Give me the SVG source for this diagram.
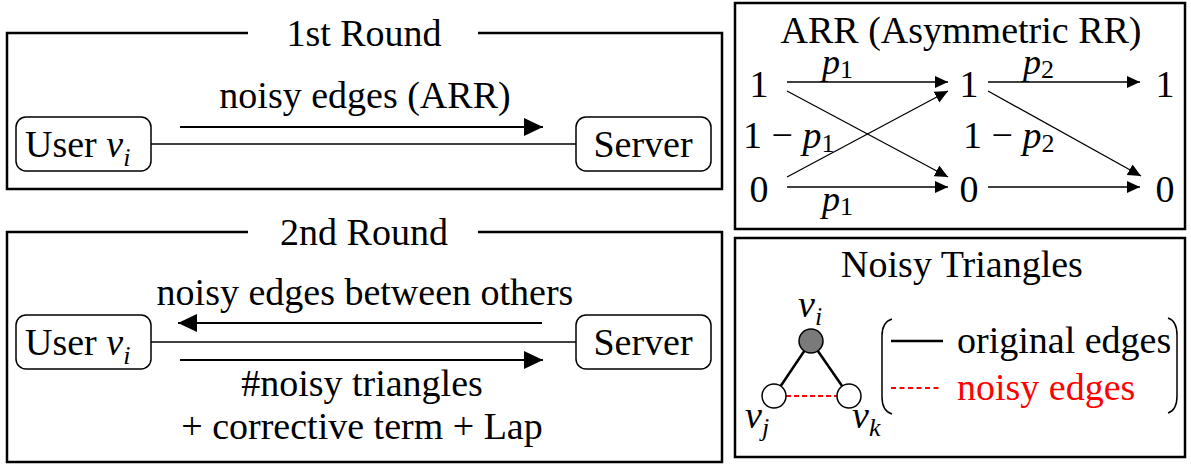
<svg xmlns="http://www.w3.org/2000/svg" width="1191" height="465" viewBox="0 0 1191 465" font-family="'Liberation Serif', 'DejaVu Serif', serif">
<style>
text{font-family:'Liberation Serif','DejaVu Serif',serif;font-size:38px;fill:#000}
.c{text-anchor:middle}
.it{font-style:italic}
.sub{font-size:26px}
.m{font-size:36px}
.frame{fill:none;stroke:#000;stroke-width:2.5}
.node{fill:#fff;stroke:#000;stroke-width:1.5}
.link{stroke:#000;stroke-width:1.4;fill:none}
.arr{stroke:#000;stroke-width:2;fill:none;marker-end:url(#big)}
.sarr{stroke:#000;stroke-width:1.3;fill:none;marker-end:url(#small)}
.red{fill:#ff0000}
</style>
<defs>
<marker id="big" markerUnits="userSpaceOnUse" markerWidth="20" markerHeight="19" refX="19" refY="9" orient="auto"><path d="M0,0 L19,9 L0,18 z" fill="#000"/></marker>
<marker id="small" markerUnits="userSpaceOnUse" markerWidth="14" markerHeight="13" refX="13" refY="6" orient="auto"><path d="M0,0 L13,6 L0,12 z" fill="#000"/></marker>
</defs>
<rect width="1191" height="465" fill="#fff"/>

<g id="round1">
<path class="frame" d="M248,33 H7 V189 H722 V33 H478"/>
<text class="c" x="364" y="46">1st Round</text>
<text class="c" x="365" y="108">noisy edges (ARR)</text>
</g>
<g id="user1">
<rect class="node" x="16" y="117" width="135" height="54" rx="10"/>
<text x="25" y="157">User <tspan class="it">v</tspan><tspan class="it sub" dy="9">i</tspan></text>
</g>
<g id="server1">
<rect class="node" x="576" y="117" width="135" height="54" rx="10"/>
<text class="c" x="643" y="157">Server</text>
</g>

<g id="round2">
<path class="frame" d="M248,232 H7 V462 H722 V232 H478"/>
<text class="c" x="364" y="245">2nd Round</text>
<text class="c" x="365" y="305">noisy edges between others</text>
<text class="c" x="362" y="396">#noisy triangles</text>
<text class="c" x="362" y="439">+ corrective term + Lap</text>
</g>
<g id="user2">
<rect class="node" x="16" y="315" width="135" height="54" rx="10"/>
<text x="25" y="355">User <tspan class="it">v</tspan><tspan class="it sub" dy="9">i</tspan></text>
</g>
<g id="server2">
<rect class="node" x="576" y="315" width="135" height="54" rx="10"/>
<text class="c" x="643" y="355">Server</text>
</g>

<g id="arr-panel">
<rect class="frame" x="735" y="3" width="450" height="226"/>
<text class="c" x="961" y="43">ARR (Asymmetric RR)</text>
<text class="c" x="759" y="97">1</text>
<text class="c" x="759" y="202">0</text>
<text class="c" x="969" y="97">1</text>
<text class="c" x="969" y="202">0</text>
<text class="c" x="1165" y="97">1</text>
<text class="c" x="1165" y="202">0</text>
<text class="m" x="822" y="74"><tspan class="it">p</tspan><tspan class="sub" dy="4">1</tspan></text>
<text class="m" x="1023" y="74"><tspan class="it">p</tspan><tspan class="sub" dy="4">2</tspan></text>
<text x="743" y="148">1 − <tspan class="it">p</tspan><tspan class="sub" dy="4">1</tspan></text>
<text x="963" y="148">1 − <tspan class="it">p</tspan><tspan class="sub" dy="4">2</tspan></text>
<text class="m" x="822" y="211"><tspan class="it">p</tspan><tspan class="sub" dy="4">1</tspan></text>
</g>

<g id="triangles-panel">
<rect class="frame" x="735" y="238" width="450" height="219"/>
<text class="c" x="962" y="277">Noisy Triangles</text>
<line x1="811" y1="341" x2="774" y2="396" stroke="#000" stroke-width="2.5"/>
<line x1="811" y1="341" x2="849" y2="396" stroke="#000" stroke-width="2.5"/>
<line x1="786" y1="396" x2="837" y2="396" stroke="#ff0000" stroke-width="2" stroke-dasharray="5 3"/>
<g id="vi"><circle cx="811" cy="341" r="12" fill="#7a7a7a" stroke="#000" stroke-width="1.5"/><text x="798" y="317"><tspan class="it">v</tspan><tspan class="it sub" dy="8">i</tspan></text></g>
<g id="vj"><circle cx="774" cy="396" r="12" fill="#fff" stroke="#000" stroke-width="1.5"/><text x="745" y="428"><tspan class="it">v</tspan><tspan class="it sub" dy="8">j</tspan></text></g>
<g id="vk"><circle cx="849" cy="396" r="12" fill="#fff" stroke="#000" stroke-width="1.5"/><text x="852" y="428"><tspan class="it">v</tspan><tspan class="it sub" dy="8">k</tspan></text></g>
<path d="M892,319 Q882,322 882,336 L882,397 Q882,411 892,414" fill="none" stroke="#000" stroke-width="1.5"/>
<path d="M1168,318 Q1177,321 1177,335 L1177,396 Q1177,410 1168,413" fill="none" stroke="#000" stroke-width="1.5"/>
<line x1="891" y1="341" x2="943" y2="341" stroke="#000" stroke-width="2.5"/>
<line x1="891" y1="388" x2="940" y2="388" stroke="#ff0000" stroke-width="2" stroke-dasharray="5 3.5"/>
<text x="957" y="353">original edges</text>
<text class="red" x="957" y="400">noisy edges</text>
</g>

<g id="connectors">
<line class="link" x1="151" y1="144" x2="576" y2="144"/>
<line class="arr" x1="180" y1="127" x2="543" y2="127"/>
<line class="link" x1="151" y1="342" x2="576" y2="342"/>
<line class="arr" x1="542" y1="323" x2="178" y2="323"/>
<line class="arr" x1="180" y1="360" x2="543" y2="360"/>
<line class="sarr" x1="787" y1="82" x2="948" y2="82"/>
<line class="sarr" x1="787" y1="91" x2="948" y2="177"/>
<line class="sarr" x1="787" y1="177" x2="948" y2="91"/>
<line class="sarr" x1="787" y1="187" x2="948" y2="187"/>
<line class="sarr" x1="988" y1="82" x2="1140" y2="82"/>
<line class="sarr" x1="988" y1="91" x2="1141" y2="176"/>
<line class="sarr" x1="988" y1="187" x2="1140" y2="187"/>
</g>
</svg>
